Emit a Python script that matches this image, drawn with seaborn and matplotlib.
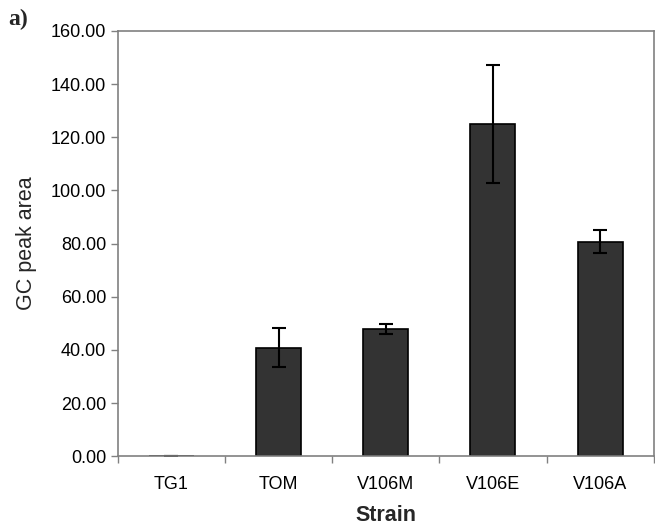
import numpy as np
import pandas as pd
import matplotlib
matplotlib.use("Agg")
import matplotlib.pyplot as plt
import seaborn as sns
from matplotlib.ticker import FormatStrFormatter, FixedLocator

sns.set_theme(style="white")
plt.rcParams['font.family'] = ['Liberation Sans', 'DejaVu Sans']

# values
strains = ["TG1", "TOM", "V106M", "V106E", "V106A"]
peak_area = [0.0, 40.9, 47.8, 125.0, 80.7]
peak_err = [0.0, 7.4, 1.8, 22.3, 4.3]

df = pd.DataFrame({"Strain": strains, "GC peak area": peak_area})

fig = plt.figure(figsize=(6.55, 5.25), dpi=100)
ax = fig.add_axes([0.180, 0.131, 0.818, 0.810])

sns.barplot(data=df, x="Strain", y="GC peak area", order=strains,
            color="#333333", saturation=1, width=0.42,
            edgecolor="black", linewidth=1.2, errorbar=None, ax=ax)

# error bars at bar centres
centers = [p.get_x() + p.get_width() / 2 for p in ax.patches]
ax.errorbar(centers, peak_area, yerr=peak_err, fmt="none",
            ecolor="black", elinewidth=1.5, capsize=5, capthick=1.5)

ax.set_xlim(-0.5, len(strains) - 0.5)
ax.set_ylim(0, 160)
ax.yaxis.set_major_locator(FixedLocator(np.arange(0, 161, 20)))
ax.yaxis.set_major_formatter(FormatStrFormatter("%.2f"))

# excel style: ticks between categories
ax.xaxis.set_minor_locator(FixedLocator(np.arange(-0.5, len(strains), 1.0)))
ax.tick_params(axis="x", which="major", length=0, pad=14, labelsize=13, colors="black")
ax.tick_params(axis="x", which="minor", length=5, width=1, color="#808080", direction="out", bottom=True)
ax.tick_params(axis="y", which="major", length=5, width=1, color="#808080", direction="out",
               left=True, labelsize=13, colors="black")
ax.tick_params(axis="y", labelcolor="black")

for s in ax.spines.values():
    s.set_color("#808080")
    s.set_linewidth(1.2)

ax.set_xlabel("Strain", fontsize=15.5, fontweight="bold", labelpad=9)
ax.set_ylabel("GC peak area", fontsize=15.5, labelpad=10)

fig.text(0.012, 0.952, "a)", fontsize=17, fontweight="bold",
         family=["Liberation Serif", "DejaVu Serif"])

fig.savefig("out.png", dpi=100)
